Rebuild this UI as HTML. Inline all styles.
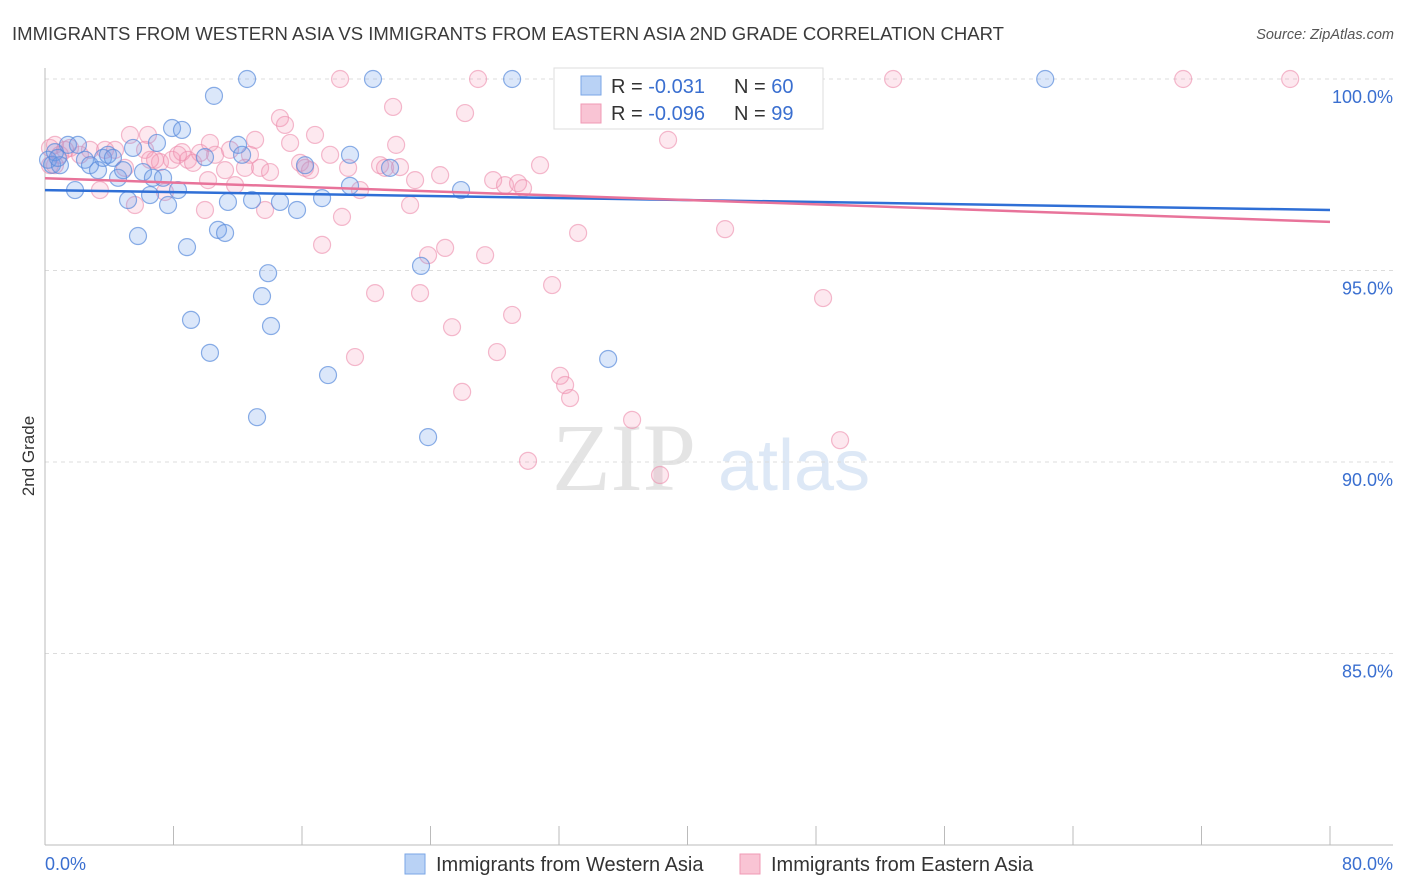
<!DOCTYPE html>
<html><head><meta charset="utf-8"><style>
body{margin:0;background:#fff;font-family:"Liberation Sans",sans-serif;}
#wrap{position:relative;width:1406px;height:892px;overflow:hidden;}
</style></head><body>
<div id="wrap">
<svg id="svg" width="1406" height="892" xmlns="http://www.w3.org/2000/svg">
<text x="12" y="40" font-size="18.5" fill="#3a3a3a" textLength="992" lengthAdjust="spacingAndGlyphs">IMMIGRANTS FROM WESTERN ASIA VS IMMIGRANTS FROM EASTERN ASIA 2ND GRADE CORRELATION CHART</text>
<text x="1394" y="39" font-size="14.5" fill="#555" font-style="italic" text-anchor="end">Source: ZipAtlas.com</text>
<text x="34" y="456" font-size="17" fill="#333" text-anchor="middle" transform="rotate(-90 34 456)">2nd Grade</text>
<g><text x="552" y="490" font-size="96" fill="#e4e4e4" font-family="Liberation Serif,serif">ZIP</text><text x="718" y="490" font-size="72" fill="#dde8f6">atlas</text></g>
<g id="grid"></g><g id="axes"></g><g id="pts"></g><g id="trend"></g>
<g>
<rect x="554" y="68" width="269" height="61" fill="#fff" stroke="#ddd"/>
<rect x="581" y="76" width="20" height="19" fill="#b9d2f5" stroke="#7aa6e6"/>
<rect x="581" y="104" width="20" height="19" fill="#f9c4d4" stroke="#f09ab5"/>
<text x="611" y="93" font-size="20" fill="#333">R = <tspan fill="#3a6fd0">-0.031</tspan></text>
<text x="734" y="93" font-size="20" fill="#333">N = <tspan fill="#3a6fd0">60</tspan></text>
<text x="611" y="120" font-size="20" fill="#333">R = <tspan fill="#3a6fd0">-0.096</tspan></text>
<text x="734" y="120" font-size="20" fill="#333">N = <tspan fill="#3a6fd0">99</tspan></text>
</g>
<g>
<rect x="405" y="854" width="20" height="20" fill="#b9d2f5" stroke="#7aa6e6"/>
<text x="436" y="871" font-size="20" fill="#333">Immigrants from Western Asia</text>
<rect x="740" y="854" width="20" height="20" fill="#f9c4d4" stroke="#f09ab5"/>
<text x="771" y="871" font-size="20" fill="#333">Immigrants from Eastern Asia</text>
</g>
</svg></div>
<script>
const blueX=[0.19,0.44,0.62,0.93,1.43,1.87,2.05,2.49,2.80,3.30,3.61,3.92,4.23,4.55,4.86,5.17,5.48,5.79,6.10,6.54,6.72,6.97,7.35,7.66,7.91,8.28,8.53,8.84,9.09,9.96,10.27,10.52,10.77,11.21,11.39,12.02,12.27,12.89,13.20,13.51,13.89,14.07,14.63,15.69,16.19,17.25,17.62,18.99,18.99,20.42,21.48,23.41,23.85,25.90,29.08,35.06,42.34,62.27,12.58,0.80];
const blueY=[97.89,97.76,98.09,97.75,98.28,97.10,98.28,97.89,97.75,97.62,97.94,98.02,97.94,97.42,97.62,96.84,98.20,95.90,97.57,96.97,97.42,98.33,97.42,96.71,98.72,97.10,98.67,95.61,93.71,97.96,92.85,99.56,96.06,95.98,96.79,98.28,98.02,96.84,91.17,94.33,94.93,93.55,96.79,96.58,97.75,96.89,92.27,98.02,97.21,100,97.68,95.12,90.65,97.10,100,92.69,100,100,100,97.94];
const pinkX=[0.31,0.62,0.93,1.25,1.56,2.18,2.80,3.42,3.74,4.36,4.98,5.29,5.60,6.23,6.41,6.85,7.16,7.47,7.91,8.28,8.53,8.90,9.22,9.65,9.96,10.27,10.59,11.21,11.52,11.83,12.45,12.76,13.08,13.39,13.70,14.01,14.63,14.94,15.26,15.88,16.19,16.50,16.81,17.25,17.75,18.37,18.49,18.87,19.30,19.61,20.55,20.86,21.17,21.67,21.86,22.10,22.73,23.04,23.35,23.85,24.60,24.91,25.34,25.97,26.15,26.96,27.40,27.90,28.14,28.64,29.08,29.45,29.76,30.07,30.82,31.57,32.07,32.38,32.69,33.19,36.55,37.05,38.29,38.79,42.34,48.44,49.50,52.80,70.86,77.52,38.29,33.31,34.43,10.15,6.54,0.62,0.31];
const pinkY=[98.20,98.28,98.02,98.15,98.20,98.02,98.15,97.10,98.15,98.15,97.68,98.54,96.71,98.15,98.54,97.89,97.83,97.05,97.89,98.02,98.09,97.89,97.81,98.07,96.58,98.33,98.02,97.62,98.15,97.23,97.68,98.02,98.41,97.68,96.58,97.57,98.98,98.80,98.33,97.81,97.68,97.62,98.54,95.67,98.02,100,96.40,97.68,92.74,97.10,94.41,97.75,97.68,99.27,98.28,97.70,96.71,97.36,94.41,95.40,97.49,95.59,93.52,91.83,99.11,100,95.40,97.36,92.87,97.23,93.84,97.28,97.15,90.03,97.75,94.62,92.25,92.01,91.67,95.98,91.10,100,89.66,98.41,96.08,94.28,90.57,100,100,100,100,100,100,97.36,97.89,97.75,97.75];
const blueTrend=[97.10,96.58];
const pinkTrend=[97.41,96.27];
const yTicks=[100,95,90,85];
const yTickLabels=["100.0%","95.0%","90.0%","85.0%"];
const xTicks=[0,8,16,24,32,40,48,56,64,72,80];
const xs=v=>45+(v/80)*1285;
const ys=v=>79+(100-v)*38.3;
const NS="http://www.w3.org/2000/svg";
function mk(tag,attrs,parent){const e=document.createElementNS(NS,tag);for(const k in attrs)e.setAttribute(k,attrs[k]);parent.appendChild(e);return e;}
const grid=document.getElementById('grid'),axes=document.getElementById('axes'),pts=document.getElementById('pts'),trend=document.getElementById('trend');
yTicks.forEach((t,i)=>{
 const l=mk('line',{x1:45,x2:1393,y1:ys(t),y2:ys(t),stroke:'#dcdcdc','stroke-dasharray':'4,4'},grid);
 
 
 const tx=mk('text',{x:1393,y:ys(t)+24,'font-size':18,fill:'#3a6fd0','text-anchor':'end'},axes);
 tx.textContent=yTickLabels[i];
 
 
});
const ya=mk('line',{x1:45,x2:45,y1:68,y2:845,stroke:'#bbb'},axes);


const xa=mk('line',{x1:45,x2:1393,y1:845,y2:845,stroke:'#bbb'},axes);


xTicks.forEach(t=>{
 const l=mk('line',{x1:xs(t),x2:xs(t),y1:826,y2:845,stroke:'#bbb'},axes);
 
 
});
const x0=mk('text',{x:45,y:870,'font-size':18,fill:'#3a6fd0'},axes);x0.textContent='0.0%';


const x1=mk('text',{x:1393,y:870,'font-size':18,fill:'#3a6fd0','text-anchor':'end'},axes);x1.textContent='80.0%';


pinkX.forEach((x,i)=>{
 const c=mk('circle',{cx:xs(x),cy:ys(pinkY[i]),r:8.5,fill:'rgba(244,150,180,0.22)',stroke:'rgba(236,140,172,0.6)','stroke-width':1.2},pts);
 
 
});
blueX.forEach((x,i)=>{
 const c=mk('circle',{cx:xs(x),cy:ys(blueY[i]),r:8.5,fill:'rgba(110,160,235,0.25)',stroke:'rgba(90,140,220,0.7)','stroke-width':1.2},pts);
 
 
});
const bl=mk('line',{x1:xs(0),x2:xs(80),y1:ys(blueTrend[0]),y2:ys(blueTrend[1]),stroke:'#2f6fd6','stroke-width':2.5},trend);


const pl=mk('line',{x1:xs(0),x2:xs(80),y1:ys(pinkTrend[0]),y2:ys(pinkTrend[1]),stroke:'#e8739a','stroke-width':2.5},trend);


</script>
</body></html>
